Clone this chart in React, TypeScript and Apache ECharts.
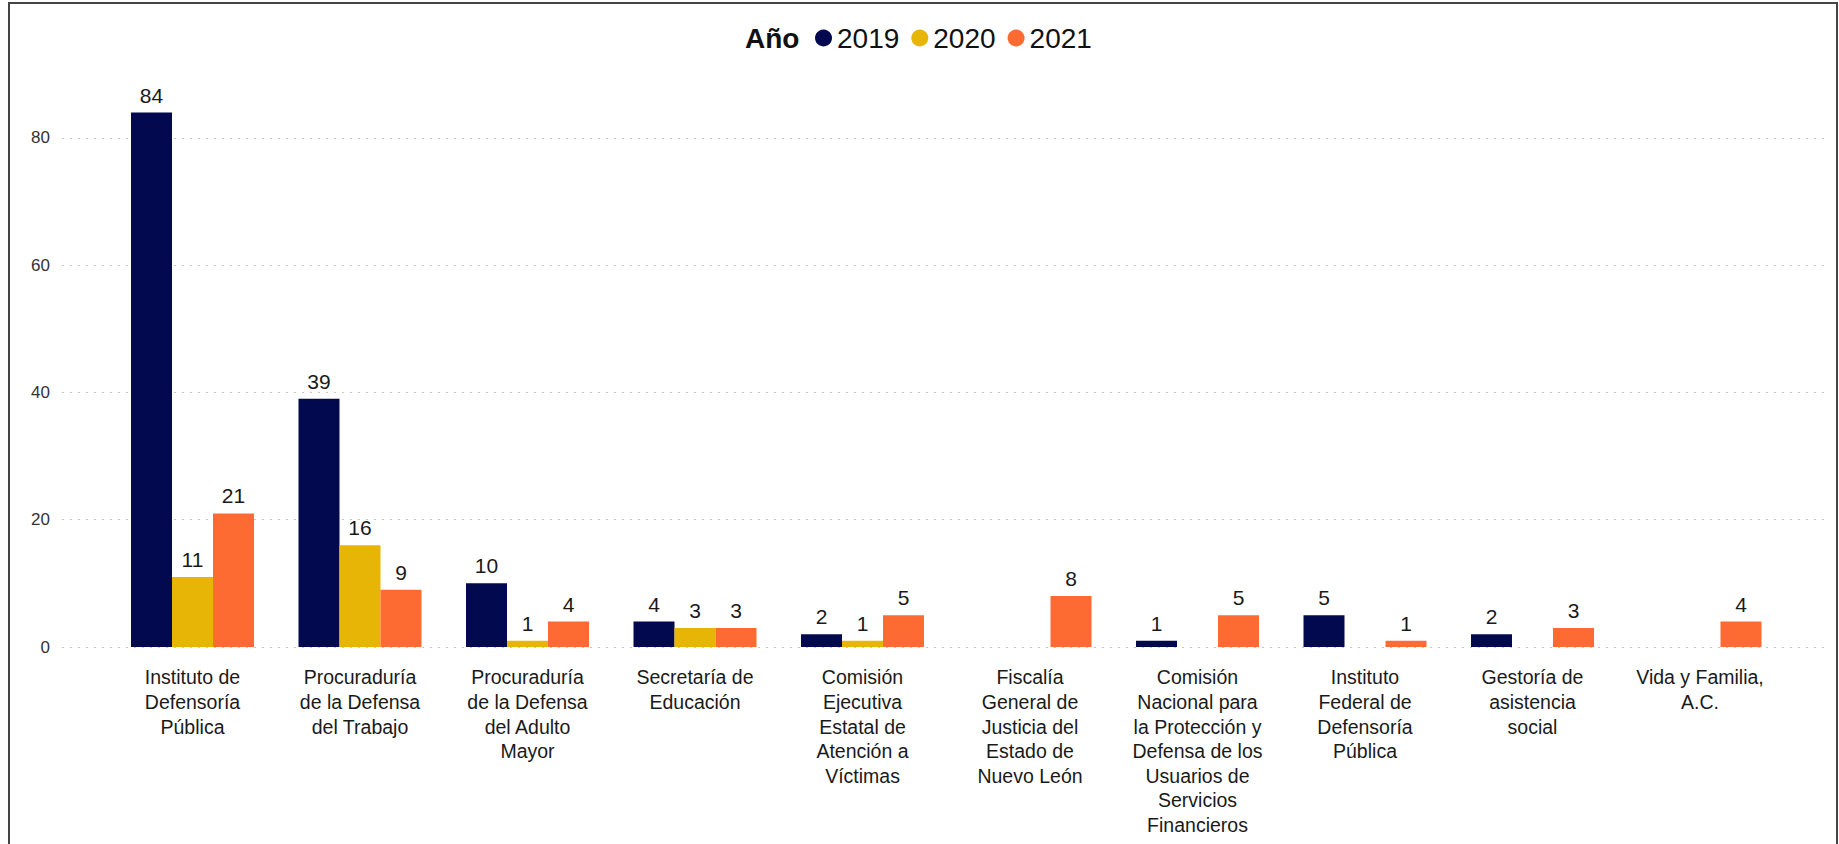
import React, { useEffect, useRef } from "react";
import * as echarts from "echarts";

const categories: string[] = [
  "Instituto de\nDefensoría\nPública",
  "Procuraduría\nde la Defensa\ndel Trabajo",
  "Procuraduría\nde la Defensa\ndel Adulto\nMayor",
  "Secretaría de\nEducación",
  "Comisión\nEjecutiva\nEstatal de\nAtención a\nVíctimas",
  "Fiscalía\nGeneral de\nJusticia del\nEstado de\nNuevo León",
  "Comisión\nNacional para\nla Protección y\nDefensa de los\nUsuarios de\nServicios\nFinancieros",
  "Instituto\nFederal de\nDefensoría\nPública",
  "Gestoría de\nasistencia\nsocial",
  "Vida y Familia,\nA.C.",
];

const seriesNames: string[] = ["2019", "2020", "2021"];
const values2019: (number | null)[] = [84, 39, 10, 4, 2, null, 1, 5, 2, null];
const values2020: (number | null)[] = [11, 16, 1, 3, 1, null, null, null, null, null];
const values2021: (number | null)[] = [21, 9, 4, 3, 5, 8, 5, 1, 3, 4];
const colors: string[] = ["#03094F", "#E6B505", "#FD6B32"];
const yTicks = { min: 0, max: 84, interval: 20 };
const legendTitle = "Año";

const FONT = "'Liberation Sans', Arial, sans-serif";

export default function App() {
  const ref = useRef<HTMLDivElement>(null);
  useEffect(() => {
    if (!ref.current) return;
    const chart = echarts.init(ref.current, undefined, { renderer: "svg" });
    const data = [values2019, values2020, values2021];
    const option: any = {
      animation: false,
      backgroundColor: "#ffffff",
      textStyle: { fontFamily: FONT },
      title: {
        text: legendTitle,
        left: 745,
        top: 24,
        padding: 0,
        textStyle: { fontFamily: FONT, fontSize: 28, fontWeight: "bold", color: "#111" },
      },
      legend: {
        data: seriesNames,
        left: 815,
        top: 24,
        padding: 0,
        icon: "circle",
        itemWidth: 17,
        itemHeight: 17,
        itemGap: 12,
        textStyle: { fontFamily: FONT, fontSize: 28, color: "#111" },
      },
      grid: [
        { left: 62, right: 14, top: 112.5, bottom: 197 },
        { left: 108.75, right: 55.25, top: 112.5, bottom: 197 },
      ],
      xAxis: [
        { type: "value", gridIndex: 0, show: false, min: 0, max: 1 },
        {
          type: "category",
          gridIndex: 1,
          data: categories,
          axisLine: { show: false },
          axisTick: { show: false },
          axisLabel: {
            interval: 0,
            fontFamily: FONT,
            fontSize: 19.5,
            lineHeight: 24.6,
            color: "#1a1a1a",
            margin: 18,
            align: "center",
          },
        },
      ],
      yAxis: [
        {
          type: "value",
          gridIndex: 0,
          min: yTicks.min,
          max: yTicks.max,
          interval: yTicks.interval,
          axisLine: { show: false },
          axisTick: { show: false },
          axisLabel: {
            fontFamily: FONT,
            fontSize: 17,
            color: "#333",
            margin: 12,
            showMaxLabel: false,
          },
          splitLine: {
            show: true,
            showMaxLine: false,
            lineStyle: { color: "#c6c6c6", width: 1.2, type: [2, 6] },
          },
        },
        {
          type: "value",
          gridIndex: 1,
          min: yTicks.min,
          max: yTicks.max,
          show: false,
          splitLine: { show: false },
        },
      ],
      series: seriesNames.map((name, i) => ({
        name,
        type: "bar",
        xAxisIndex: 1,
        yAxisIndex: 1,
        data: data[i],
        barWidth: 41,
        barGap: "0%",
        itemStyle: { color: colors[i] },
        label: {
          show: true,
          position: "top",
          distance: 7,
          fontFamily: FONT,
          fontSize: 21,
          color: "#1a1a1a",
        },
      })),
      graphic: [
        {
          type: "rect",
          silent: true,
          shape: { x: 9, y: 3, width: 1828, height: 900 },
          style: { fill: "none", stroke: "#444", lineWidth: 2 },
        },
      ],
    };
    chart.setOption(option);
    return () => chart.dispose();
  }, []);
  return (
    <div
      ref={ref}
      style={{ position: "fixed", left: 0, top: 0, width: 1839, height: 844, background: "#fff" }}
    />
  );
}
